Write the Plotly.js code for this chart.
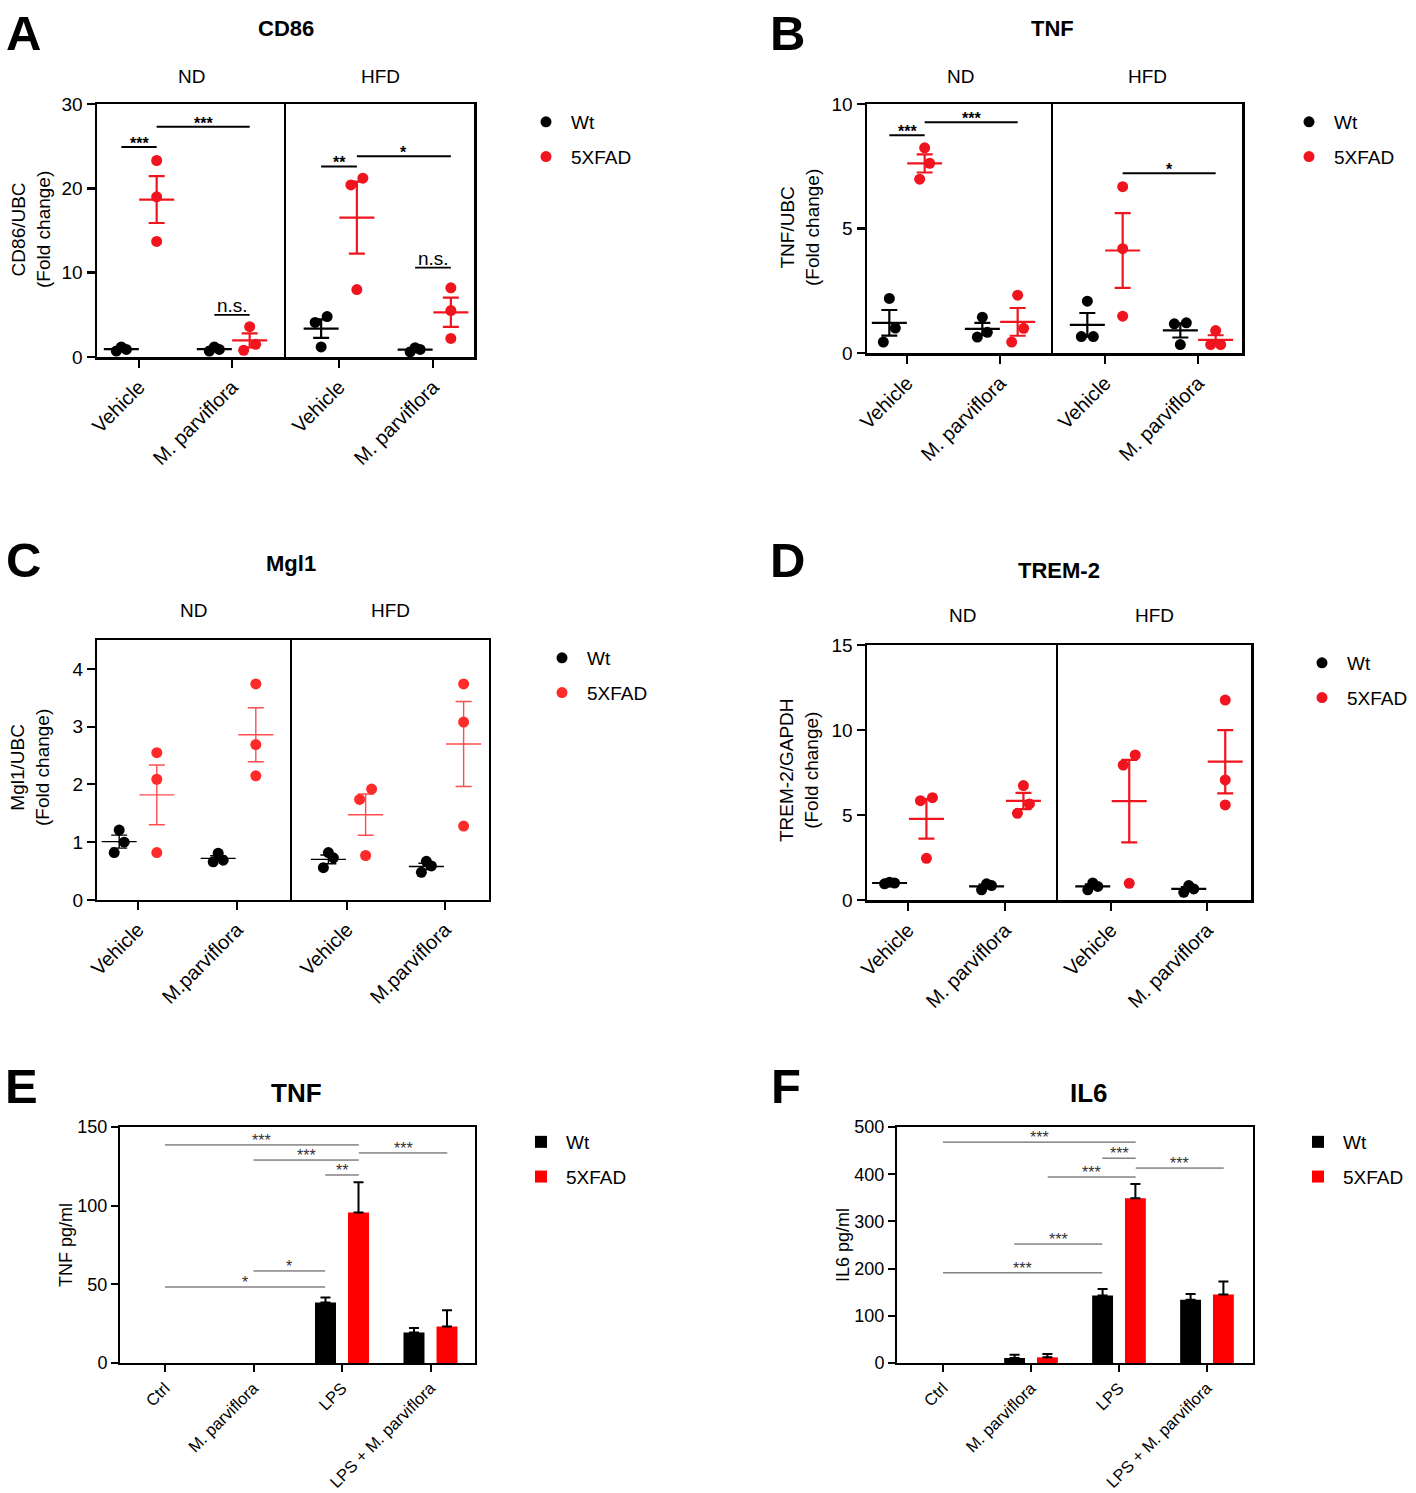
<!DOCTYPE html>
<html><head><meta charset="utf-8">
<script src="https://cdn.plot.ly/plotly-3.0.1.min.js"></script>
<style>html,body{margin:0;padding:0;background:#fff}#chart{width:1416px;height:1493px}</style>
</head><body><div id="chart"></div>
<script>
// ================= DATA =================
const genotypes = ['Wt', '5XFAD'];
const dietFacets = ['ND', 'HFD'];
const dotTreatments = ['Vehicle', 'M. parviflora'];
const dotTreatmentsC = ['Vehicle', 'M.parviflora'];
const barTreatments = ['Ctrl', 'M. parviflora', 'LPS', 'LPS + M. parviflora'];

// Panel A: CD86/UBC (fold change); each = [Vehicle points, M. parviflora points]
const cd86_ND_Wt = [[1.2, 0.7, 0.9], [1.2, 0.7, 0.9]];
const cd86_ND_5XFAD = [[23.3, 19.0, 13.7], [3.6, 1.5, 0.8]];
const cd86_HFD_Wt = [[4.8, 4.1, 1.2], [1.1, 0.6, 0.9]];
const cd86_HFD_5XFAD = [[21.2, 20.4, 8.0], [8.2, 5.5, 2.2]];
const cd86Ticks = [0, 10, 20, 30];

// Panel B: TNF/UBC
const tnfq_ND_Wt = [[2.19, 1.0, 0.44], [1.44, 0.64, 0.83]];
const tnfq_ND_5XFAD = [[8.24, 7.62, 6.98], [2.32, 0.99, 0.44]];
const tnfq_HFD_Wt = [[2.08, 0.66, 0.66], [1.21, 1.17, 0.34]];
const tnfq_HFD_5XFAD = [[6.68, 4.19, 1.48], [0.9, 0.34, 0.34]];
const tnfqTicks = [0, 5, 10];

// Panel C: Mgl1/UBC
const mgl1_ND_Wt = [[1.21, 1.0, 0.82], [0.81, 0.66, 0.69]];
const mgl1_ND_5XFAD = [[2.55, 2.09, 0.82], [3.74, 2.69, 2.15]];
const mgl1_HFD_Wt = [[0.82, 0.73, 0.56], [0.67, 0.59, 0.48]];
const mgl1_HFD_5XFAD = [[1.92, 1.74, 0.77], [3.74, 3.08, 1.28]];
const mgl1Ticks = [0, 1, 2, 3, 4];

// Panel D: TREM-2/GAPDH
const trem2_ND_Wt = [[1.05, 0.95, 1.0], [0.95, 0.6, 0.85]];
const trem2_ND_5XFAD = [[6.02, 5.84, 2.45], [6.73, 5.65, 5.1]];
const trem2_HFD_Wt = [[1.0, 0.6, 0.8], [0.85, 0.45, 0.65]];
const trem2_HFD_5XFAD = [[8.53, 7.94, 0.98], [11.76, 7.06, 5.59]];
const trem2Ticks = [0, 5, 10, 15];

// Panel E: TNF pg/ml (mean, SEM; null = no error bar)
const tnf_Wt_mean = [0, 0, 38.5, 19.4];
const tnf_Wt_sem = [null, null, 3.1, 2.8];
const tnf_5XFAD_mean = [0, 0, 95.7, 23.2];
const tnf_5XFAD_sem = [null, null, 19.2, 10.4];
const tnfTicks = [0, 50, 100, 150];

// Panel F: IL6 pg/ml (mean, SEM)
const il6_Wt_mean = [0, 10.6, 143, 134];
const il6_Wt_sem = [null, 7, 14, 12];
const il6_5XFAD_mean = [0, 12, 349, 145];
const il6_5XFAD_sem = [null, 7, 30, 27.5];
const il6Ticks = [0, 100, 200, 300, 400, 500];

// significance comparisons: [facet, cat0, geno0, cat1, geno1, y, label]
const cd86Sig = [[0,0,0,0,1,24.9,'***'],[0,0,1,1,1,27.3,'***'],[0,1,0,1,1,5.0,'n.s.'],
                 [1,0,0,0,1,22.6,'**'],[1,0,1,1,1,23.8,'*'],[1,1,0,1,1,10.6,'n.s.']];
const tnfqSig = [[0,0,0,0,1,8.75,'***'],[0,0,1,1,1,9.27,'***'],[1,0,1,1,1,7.22,'*']];
// bar comparisons: [cat0, geno0 (-1 = category centre), cat1, geno1, y, label]
const tnfSig = [[0,-1,2,1,138.6,'***'],[1,-1,2,1,129.0,'***'],[2,0,2,1,119.5,'**'],
                [2,1,3,1,133.5,'***'],[1,-1,2,0,58.5,'*'],[0,-1,2,0,48.3,'*']];
const il6Sig = [[0,-1,2,1,468,'***'],[2,0,2,1,434,'***'],[1,1,2,1,394,'***'],
                [2,1,3,1,413,'***'],[1,0,2,0,252,'***'],[0,-1,2,0,191,'***']];

// ================= BUILD =================
const W = 1416, H = 1493;
const FONT = 'Liberation Sans, Arial, Helvetica, sans-serif';
const traces = [], shapes = [], annotations = [];
const layout = {
  width: W, height: H, margin: {l: 0, r: 0, t: 0, b: 0}, autosize: false,
  paper_bgcolor: '#fff', plot_bgcolor: 'rgba(0,0,0,0)',
  font: {family: FONT, color: '#000'},
  barmode: 'group', bargap: 0.254, bargroupgap: 0.364,
  hovermode: false
};
let axN = 0;
const GOFF = [-0.19, 0.19];

function paperText(text, x, y, size, extra) {
  annotations.push(Object.assign({xref: 'paper', yref: 'paper', x: x / W, y: 1 - y / H,
    text: text, showarrow: false, xanchor: 'center', yanchor: 'middle',
    font: {size: size, family: FONT, color: '#000'}}, extra || {}));
}
function newAxes() {
  axN++;
  const s = axN === 1 ? '' : String(axN);
  return {xa: 'xaxis' + s, ya: 'yaxis' + s, xr: 'x' + s, yr: 'y' + s};
}
function legendKey(i) { return i === 0 ? 'legend' : 'legend' + (i + 1); }
function makeLegend(i, xPx, topPx) {
  layout[legendKey(i)] = {x: xPx / W, y: 1 - topPx / H, xanchor: 'left', yanchor: 'top',
    bgcolor: 'rgba(0,0,0,0)', font: {size: 19, color: '#000', family: FONT},
    traceorder: 'grouped', tracegroupgap: 7, itemwidth: 40};
}
function meanSem(v) {
  const n = v.length, m = v.reduce((a, b) => a + b, 0) / n;
  const sd = Math.sqrt(v.reduce((a, b) => a + (b - m) * (b - m), 0) / (n - 1));
  return [m, sd / Math.sqrt(n)];
}
// horizontal spreading of overlapping points (category units)
function spread(vals, pxPerY, unitPx) {
  const idx = vals.map((v, i) => i).sort((a, b) => vals[a] - vals[b]);
  const off = vals.map(() => 0);
  let cl = [idx[0]];
  const flush = () => {
    const n = cl.length;
    if (n > 1) {
      const sp = n === 2 ? 12 : 5;
      const order = n === 3 ? [0, 2, 1] : cl.map((c, k) => k);
      cl.forEach((ii, k) => { off[ii] = (order[k] - (n - 1) / 2) * sp / unitPx; });
    }
  };
  for (let k = 1; k < idx.length; k++) {
    if ((vals[idx[k]] - vals[idx[k - 1]]) * pxPerY < 16) cl.push(idx[k]);
    else { flush(); cl = [idx[k]]; }
  }
  flush();
  return off;
}

function dotPanel(p) {
  const boxes = [[p.L, p.D, p.ticks[0], p.ticks[1]], [p.D, p.R, p.ticks[2], p.ticks[3]]];
  const pxPerY = (p.B - p.T) / (p.yRange[1] - p.yRange[0]);
  const refs = [];
  boxes.forEach((fb, fi) => {
    const a = newAxes(); refs.push(a);
    const unit = fb[3] - fb[2];
    layout[a.xa] = {domain: [fb[0] / W, fb[1] / W], range: [(fb[0] - fb[2]) / unit, (fb[1] - fb[2]) / unit],
      anchor: a.yr, tickmode: 'array', tickvals: [0, 1], ticktext: p.cats, tickangle: -45,
      ticks: 'outside', ticklen: 8, tickwidth: p.lw, tickcolor: '#000',
      showline: true, linewidth: p.lw, linecolor: '#000', mirror: true,
      showgrid: false, zeroline: false, fixedrange: true,
      tickfont: {size: 20, color: '#000', family: FONT}};
    layout[a.ya] = {domain: [1 - p.B / H, 1 - p.T / H], range: p.yRange, anchor: a.xr,
      tickmode: 'array', tickvals: p.yTicks, ticks: fi === 0 ? 'outside' : '', ticklen: 8,
      tickwidth: p.lw, tickcolor: '#000', showticklabels: fi === 0,
      showline: true, linewidth: p.lw, linecolor: '#000', mirror: fi === 1,
      showgrid: false, zeroline: false, fixedrange: true,
      tickfont: {size: 19, color: '#000', family: FONT}};
    const facet = dietFacets[fi];
    genotypes.forEach((g, gi) => {
      const groups = p.series[facet][g];
      const col = gi === 0 ? '#000' : p.red;
      const lcol = gi === 0 ? '#000' : p.redLine;
      const xs = [], ys = [], mx = [], my = [], me = [];
      groups.forEach((vals, ci) => {
        const off = spread(vals, pxPerY, unit);
        vals.forEach((v, k) => { xs.push(ci + GOFF[gi] + off[k]); ys.push(v); });
        const ms = meanSem(vals);
        mx.push(ci + GOFF[gi]); my.push(ms[0]); me.push(ms[1]);
      });
      traces.push({type: 'scatter', mode: 'markers', x: mx, y: my, xaxis: a.xr, yaxis: a.yr,
        marker: {symbol: 'line-ew', size: 25, color: lcol, line: {color: lcol, width: p.elw}},
        error_y: {type: 'data', array: me, visible: true, color: lcol, thickness: p.elw, width: 8},
        showlegend: false, hoverinfo: 'skip', cliponaxis: false});
      traces.push({type: 'scatter', mode: 'markers', x: xs, y: ys, xaxis: a.xr, yaxis: a.yr,
        name: g, legend: legendKey(p.legendIdx), legendgroup: g, showlegend: fi === 0,
        marker: {color: col, size: 11}, cliponaxis: false});
    });
    paperText(facet, p.facetX[fi], p.facetY, 19);
  });
  (p.sig || []).forEach(s => {
    const a = refs[s[0]];
    const x0 = s[1] + GOFF[s[2]], x1 = s[3] + GOFF[s[4]];
    const ns = s[6] === 'n.s.';
    shapes.push({type: 'line', xref: a.xr, yref: a.yr, x0: x0, x1: x1, y0: s[5], y1: s[5],
      line: {color: '#000', width: ns ? 1.8 : 2}});
    annotations.push({xref: a.xr, yref: a.yr, x: (x0 + x1) / 2, y: s[5], showarrow: false,
      yanchor: 'bottom', yshift: ns ? -3 : -7, text: ns ? 'n.s.' : '<b>' + s[6] + '</b>',
      font: {size: ns ? 19 : 16, color: '#000', family: FONT}});
  });
  paperText('<b>' + p.letter + '</b>', p.letterXY[0], p.letterXY[1], 49);
  paperText('<b>' + p.title + '</b>', p.titleXY[0], p.titleXY[1], 22);
  paperText(p.ytitle, p.ytitleXY[0], p.ytitleXY[1], 19, {textangle: -90});
  makeLegend(p.legendIdx, p.legendXY[0], p.legendXY[1]);
}

function barPanel(p) {
  const a = newAxes();
  const unit = p.unit;
  layout[a.xa] = {domain: [p.L / W, p.R / W], range: [(p.L - p.t0) / unit, (p.R - p.t0) / unit],
    anchor: a.yr, tickmode: 'array', tickvals: [0, 1, 2, 3], ticktext: barTreatments, tickangle: -45,
    ticks: 'outside', ticklen: 7, tickwidth: 2, tickcolor: '#000',
    showline: true, linewidth: 2, linecolor: '#000', mirror: true,
    showgrid: false, zeroline: false, fixedrange: true,
    tickfont: {size: 16.5, color: '#000', family: FONT}};
  layout[a.ya] = {domain: [1 - p.B / H, 1 - p.T / H], range: p.yRange, anchor: a.xr,
    tickmode: 'array', tickvals: p.yTicks, ticks: 'outside', ticklen: 7, tickwidth: 2, tickcolor: '#000',
    showline: true, linewidth: 2, linecolor: '#000', mirror: true,
    showgrid: false, zeroline: false, fixedrange: true,
    tickfont: {size: 18, color: '#000', family: FONT}};
  const cats = [0, 1, 2, 3];
  p.series.forEach((s, gi) => {
    const up = s.sem.map(v => (v === null ? NaN : v));
    traces.push({type: 'bar', x: cats, y: s.mean, xaxis: a.xr, yaxis: a.yr, name: genotypes[gi],
      legend: legendKey(p.legendIdx), legendgroup: genotypes[gi],
      marker: {color: gi === 0 ? '#000' : '#ff0000', line: {width: 0}},
      error_y: {type: 'data', array: up, arrayminus: up.map(v => (isNaN(v) ? NaN : 0)), symmetric: false,
        visible: true, color: '#000', thickness: 2, width: 5}});
  });
  p.sig.forEach(s => {
    const x0 = s[0] + (s[1] < 0 ? 0 : GOFF[s[1]]), x1 = s[2] + (s[3] < 0 ? 0 : GOFF[s[3]]);
    shapes.push({type: 'line', xref: a.xr, yref: a.yr, x0: x0, x1: x1, y0: s[4], y1: s[4],
      line: {color: '#444', width: 1}});
    annotations.push({xref: a.xr, yref: a.yr, x: (x0 + x1) / 2, y: s[4], showarrow: false,
      yanchor: 'bottom', yshift: -6, text: s[5], font: {size: 16, color: '#333', family: FONT}});
  });
  paperText('<b>' + p.letter + '</b>', p.letterXY[0], p.letterXY[1], 49);
  paperText('<b>' + p.title + '</b>', p.titleXY[0], p.titleXY[1], 26);
  paperText(p.ytitle, p.ytitleXY[0], p.ytitleXY[1], 18, {textangle: -90});
  makeLegend(p.legendIdx, p.legendXY[0], p.legendXY[1]);
}

const RED = '#f0141e';
dotPanel({letter: 'A', title: 'CD86', ytitle: 'CD86/UBC<br>(Fold change)', legendIdx: 0,
  series: {ND: {Wt: cd86_ND_Wt, '5XFAD': cd86_ND_5XFAD}, HFD: {Wt: cd86_HFD_Wt, '5XFAD': cd86_HFD_5XFAD}},
  cats: dotTreatments, yRange: [0, 30], yTicks: cd86Ticks, sig: cd86Sig,
  L: 97, D: 286, R: 474, T: 104, B: 357, ticks: [139, 232, 339, 433],
  lw: 2.5, elw: 2.2, red: RED, redLine: RED,
  letterXY: [23, 33], titleXY: [286, 28], facetX: [191, 380], facetY: 76,
  ytitleXY: [31, 230], legendXY: [521, 103]});
dotPanel({letter: 'B', title: 'TNF', ytitle: 'TNF/UBC<br>(Fold change)', legendIdx: 1,
  series: {ND: {Wt: tnfq_ND_Wt, '5XFAD': tnfq_ND_5XFAD}, HFD: {Wt: tnfq_HFD_Wt, '5XFAD': tnfq_HFD_5XFAD}},
  cats: dotTreatments, yRange: [0, 10], yTicks: tnfqTicks, sig: tnfqSig,
  L: 867, D: 1053, R: 1242, T: 104, B: 353, ticks: [907, 1000, 1105, 1198],
  lw: 2.5, elw: 2.2, red: RED, redLine: RED,
  letterXY: [787, 33], titleXY: [1052, 28], facetX: [960, 1147], facetY: 76,
  ytitleXY: [800, 228], legendXY: [1284, 103]});
dotPanel({letter: 'C', title: 'Mgl1', ytitle: 'Mgl1/UBC<br>(Fold change)', legendIdx: 2,
  series: {ND: {Wt: mgl1_ND_Wt, '5XFAD': mgl1_ND_5XFAD}, HFD: {Wt: mgl1_HFD_Wt, '5XFAD': mgl1_HFD_5XFAD}},
  cats: dotTreatmentsC, yRange: [0, 4.5], yTicks: mgl1Ticks, sig: [],
  L: 97, D: 292, R: 489, T: 640, B: 900, ticks: [138, 237, 347, 445],
  lw: 2, elw: 1.4, red: '#ff2a2a', redLine: '#ff4d4d',
  letterXY: [23, 560], titleXY: [291, 563], facetX: [194, 390], facetY: 610,
  ytitleXY: [30, 768], legendXY: [537, 639]});
dotPanel({letter: 'D', title: 'TREM-2', ytitle: 'TREM-2/GAPDH<br>(Fold change)', legendIdx: 3,
  series: {ND: {Wt: trem2_ND_Wt, '5XFAD': trem2_ND_5XFAD}, HFD: {Wt: trem2_HFD_Wt, '5XFAD': trem2_HFD_5XFAD}},
  cats: dotTreatments, yRange: [0, 15], yTicks: trem2Ticks, sig: [],
  L: 867, D: 1058, R: 1251, T: 645, B: 900, ticks: [908, 1005, 1111, 1207],
  lw: 2.5, elw: 2.2, red: RED, redLine: RED,
  letterXY: [787, 560], titleXY: [1059, 570], facetX: [962, 1154], facetY: 616,
  ytitleXY: [799, 770], legendXY: [1297, 644]});
barPanel({letter: 'E', title: 'TNF', ytitle: 'TNF pg/ml', legendIdx: 4,
  series: [{mean: tnf_Wt_mean, sem: tnf_Wt_sem}, {mean: tnf_5XFAD_mean, sem: tnf_5XFAD_sem}],
  yRange: [0, 150], yTicks: tnfTicks, sig: tnfSig,
  L: 120, R: 475, T: 1127, B: 1363, t0: 165, unit: 88.5,
  letterXY: [21, 1086], titleXY: [296, 1093], ytitleXY: [66, 1245], legendXY: [516, 1123]});
barPanel({letter: 'F', title: 'IL6', ytitle: 'IL6 pg/ml', legendIdx: 5,
  series: [{mean: il6_Wt_mean, sem: il6_Wt_sem}, {mean: il6_5XFAD_mean, sem: il6_5XFAD_sem}],
  yRange: [0, 500], yTicks: il6Ticks, sig: il6Sig,
  L: 897, R: 1253, T: 1127, B: 1363, t0: 943, unit: 88,
  letterXY: [786, 1086], titleXY: [1089, 1093], ytitleXY: [843, 1245], legendXY: [1293, 1123]});

layout.shapes = shapes;
layout.annotations = annotations;
Plotly.newPlot('chart', traces, layout, {staticPlot: true, displayModeBar: false});
</script>
</body></html>
